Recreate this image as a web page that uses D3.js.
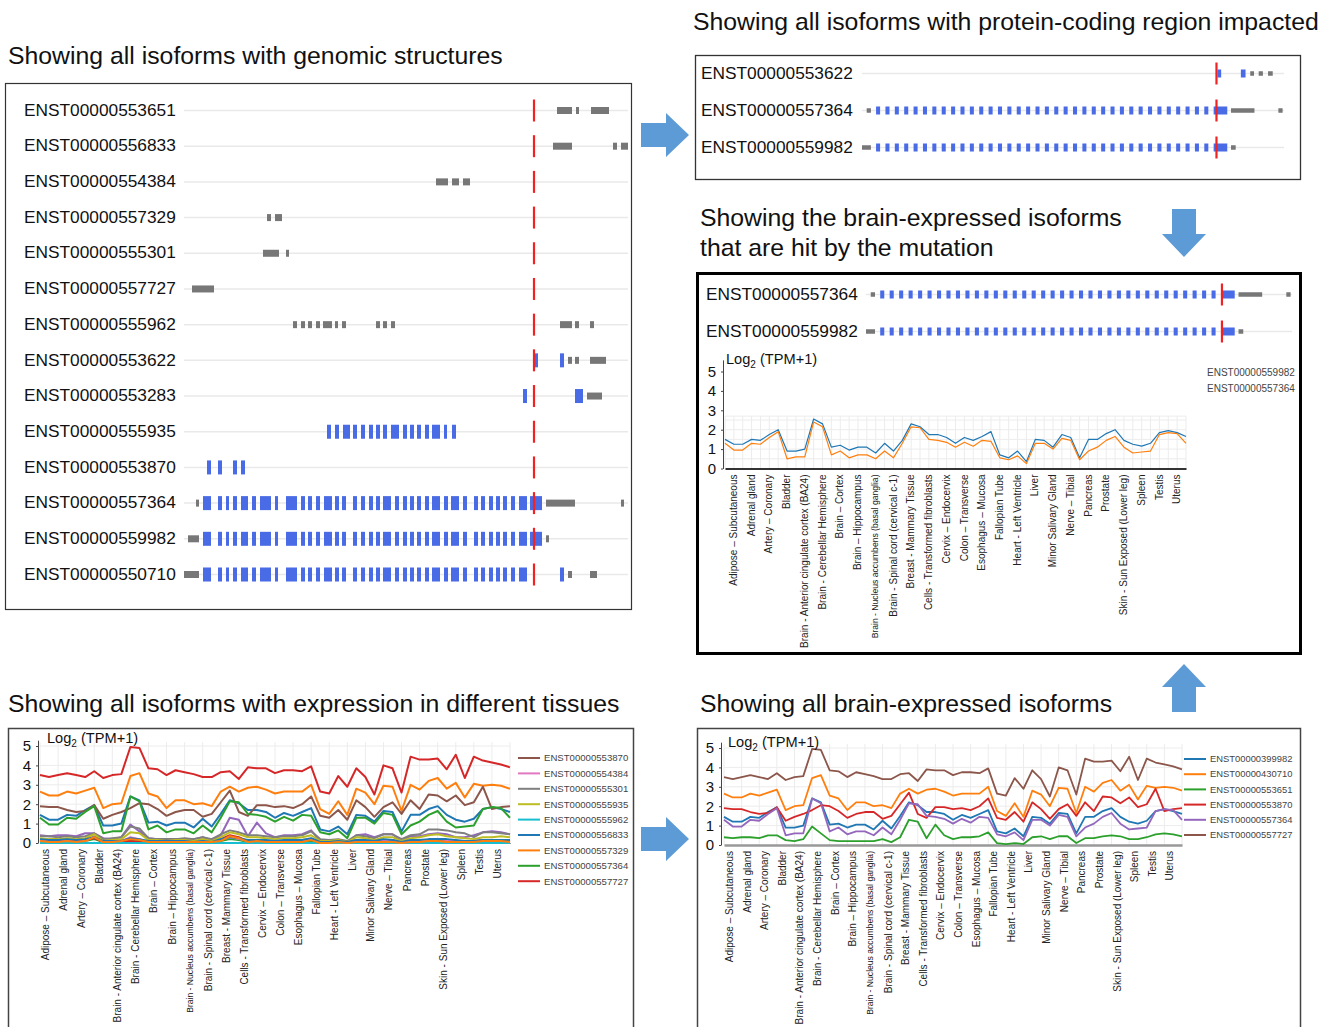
<!DOCTYPE html>
<html>
<head>
<meta charset="utf-8">
<script src="https://cdn.jsdelivr.net/npm/d3@7"></script>
<style>
  body { margin: 0; background: #fff; }
  svg { display: block; }
  text { font-family: "Liberation Sans", Arial, sans-serif; }
</style>
</head>
<body>
<svg id="fig" width="1331" height="1027"></svg>
<script>

// ---------------- data ----------------

// GTEx tissues (every other one is labelled on the axis)
var tissues = ["Adipose – Subcutaneous", "Adipose – Visceral (Omentum)", "Adrenal gland", "Artery – Aorta",
  "Artery – Coronary", "Artery – Tibial", "Bladder", "Brain – Amygdala",
  "Brain - Anterior cingulate cortex (BA24)", "Brain – Caudate (basal ganglia)", "Brain - Cerebellar Hemisphere",
  "Brain – Cerebellum", "Brain – Cortex", "Brain – Frontal Cortex (BA9)", "Brain – Hippocampus",
  "Brain – Hypothalamus", "Brain - Nucleus accumbens (basal ganglia)", "Brain – Putamen (basal ganglia)",
  "Brain - Spinal cord (cervical c-1)", "Brain – Substantia nigra", "Breast - Mammary Tissue",
  "Cells – EBV-transformed lymphocytes", "Cells - Transformed fibroblasts", "Cervix – Ectocervix",
  "Cervix – Endocervix", "Colon – Sigmoid", "Colon – Transverse", "Esophagus – Gastroesophageal Junction",
  "Esophagus – Mucosa", "Esophagus – Muscularis", "Fallopian Tube", "Heart – Atrial Appendage",
  "Heart - Left Ventricle", "Kidney – Cortex", "Liver", "Lung", "Minor Salivary Gland", "Muscle – Skeletal",
  "Nerve – Tibial", "Ovary", "Pancreas", "Pituitary", "Prostate", "Skin – Not Sun Exposed (Suprapubic)",
  "Skin - Sun Exposed (Lower leg)", "Small Intestine – Terminal Ileum", "Spleen", "Stomach", "Testis",
  "Thyroid", "Uterus", "Vagina", "Whole Blood"];

// log2(TPM+1) per tissue
var e399982 = [1.45,1.2,1.2,1.45,1.4,1.7,1.95,0.9,0.9,1.0, 2.4,2.2,1.05,1.1,0.9,1.05,1.05,0.8,1.25,0.85,
  1.5,2.2,2.05,1.7,1.7,1.6,1.3,1.55,1.4,1.6, 1.8,0.7,0.6,0.85,0.45,1.45,1.4,1.1,1.65,1.6,
  0.6,1.45,1.45,1.75,1.9,1.45,1.2,1.1,1.25,1.75, 1.85,1.75,1.6];
var e430710 = [2.65,2.45,2.45,2.65,2.55,2.7,2.85,1.8,2.0,2.05, 3.45,3.6,2.55,2.4,1.8,2.2,2.2,2.0,2.05,1.9,
  2.65,2.9,2.65,2.85,2.9,2.75,2.55,2.65,2.65,2.65, 3.0,1.75,1.5,2.15,1.45,2.8,2.6,2.0,2.95,2.9,
  1.65,3.0,2.75,3.2,3.35,2.8,3.1,2.35,3.05,2.95, 3.0,2.95,2.8];
var e550710 = [0.1,0.05,0.05,0.1,0.05,0.1,0.2,0.05,0.05,0.05, 0.15,0.1,0.05,0.05,0.05,0.05,0.05,0.05,0.05,0.05,
  0.1,0.2,0.15,0.05,0.1,0.05,0.05,0.05,0.05,0.05, 0.1,0.0,0.0,0.05,0.0,0.05,0.05,0.05,0.05,0.05,
  0.0,0.05,0.05,0.1,0.1,0.1,0.05,0.05,0.05,0.1, 0.1,0.1,0.05];
var e553283 = [0.15,0.1,0.1,0.15,0.1,0.15,0.25,0.05,0.05,0.1, 0.1,0.05,0.05,0.05,0.05,0.05,0.05,0.05,0.05,0.05,
  0.2,0.4,0.3,0.1,0.15,0.1,0.1,0.1,0.1,0.15, 0.2,0.05,0.05,0.1,0.05,0.15,0.1,0.05,0.15,0.15,
  0.05,0.1,0.15,0.15,0.2,0.15,0.1,0.1,0.1,0.15, 0.15,0.15,0.1];
var e553651 = [0.4,0.35,0.4,0.4,0.35,0.5,0.5,0.25,0.2,0.3, 0.95,0.6,0.25,0.2,0.2,0.2,0.2,0.2,0.3,0.15,
  0.4,1.3,1.2,0.35,1.05,0.5,0.3,0.4,0.4,0.45, 0.65,0.1,0.05,0.1,0.05,0.4,0.45,0.3,0.45,0.45,
  0.1,0.35,0.35,0.45,0.5,0.45,0.3,0.3,0.4,0.55, 0.6,0.55,0.45];
var e553870 = [1.9,1.85,1.85,1.7,1.6,1.65,1.95,1.25,1.45,1.6, 1.8,2.05,2.0,1.75,1.4,1.6,1.7,1.7,1.35,1.5,
  2.1,2.7,1.6,1.4,1.95,1.95,1.85,1.9,1.8,2.0, 2.4,1.4,1.3,1.7,1.2,2.2,1.85,1.35,1.85,2.1,
  1.5,2.2,1.75,2.5,2.45,2.15,2.45,1.95,2.1,2.9, 1.75,1.85,1.9];
var e554384 = [0.1,0.1,0.05,0.1,0.05,0.1,0.35,0.05,0.05,0.1, 0.3,0.2,0.05,0.05,0.05,0.05,0.05,0.05,0.1,0.05,
  0.15,0.3,0.2,0.1,0.1,0.1,0.05,0.1,0.1,0.1, 0.2,0.05,0.05,0.05,0.0,0.1,0.1,0.05,0.1,0.1,
  0.05,0.1,0.1,0.15,0.2,0.15,0.1,0.1,0.05,0.1, 0.1,0.1,0.1];
var e555301 = [0.35,0.35,0.3,0.35,0.3,0.35,0.5,0.2,0.25,0.3, 0.85,0.75,0.25,0.2,0.2,0.2,0.25,0.2,0.3,0.2,
  0.45,0.65,0.55,0.4,0.4,0.35,0.3,0.35,0.35,0.4, 0.6,0.2,0.15,0.2,0.1,0.4,0.35,0.25,0.45,0.45,
  0.2,0.4,0.45,0.7,0.7,0.65,0.55,0.5,0.3,0.55, 0.55,0.5,0.45];
var e555935 = [0.25,0.2,0.2,0.25,0.2,0.25,0.45,0.1,0.15,0.2, 0.55,0.5,0.15,0.15,0.1,0.15,0.15,0.1,0.2,0.1,
  0.3,0.55,0.45,0.3,0.3,0.25,0.2,0.25,0.25,0.3, 0.4,0.1,0.1,0.15,0.05,0.3,0.25,0.15,0.3,0.3,
  0.1,0.25,0.3,0.4,0.45,0.35,0.3,0.25,0.2,0.3, 0.3,0.35,0.3];
var e555962 = [0,0,0,0,0,0,0,0,0,0, 0,0,0,0,0,0,0,0,0,0, 0,0,0,0,0,0,0,0,0,0,
  0,0,0,0,0,0,0,0,0,0, 0,0,0,0,0,0,0,0,0,0, 0,0,0];
var e556833 = [0.2,0.15,0.15,0.2,0.15,0.2,0.3,0.1,0.1,0.1, 0.25,0.2,0.1,0.1,0.1,0.1,0.1,0.05,0.1,0.05,
  0.2,0.3,0.25,0.15,0.15,0.15,0.1,0.15,0.15,0.15, 0.25,0.05,0.05,0.1,0.05,0.15,0.15,0.1,0.2,0.15,
  0.05,0.15,0.15,0.2,0.2,0.2,0.15,0.1,0.1,0.15, 0.15,0.15,0.15];
var e557329 = [0.1,0.05,0.05,0.1,0.05,0.1,0.3,0.05,0.05,0.1, 0.2,0.15,0.05,0.05,0.05,0.05,0.05,0.05,0.05,0.05,
  0.1,0.35,0.25,0.05,0.1,0.05,0.05,0.05,0.05,0.05, 0.15,0.0,0.0,0.05,0.0,0.05,0.05,0.05,0.05,0.05,
  0.0,0.05,0.05,0.1,0.1,0.05,0.05,0.05,0.05,0.1, 0.1,0.1,0.05];
var e557364 = [1.3,0.95,0.95,1.3,1.25,1.6,1.9,0.5,0.6,0.6, 2.4,2.15,0.7,0.9,0.55,0.7,0.7,0.5,0.9,0.55,
  1.3,2.15,2.1,1.5,1.45,1.35,1.1,1.35,1.15,1.45, 1.4,0.55,0.45,0.65,0.25,1.3,1.3,1.0,1.55,1.45,
  0.45,0.9,1.1,1.45,1.65,1.1,0.8,0.85,0.9,1.75, 1.85,1.8,1.3];
var e557727 = [3.5,3.4,3.5,3.6,3.5,3.4,3.7,3.35,3.5,3.55, 4.95,4.9,3.85,3.8,3.5,3.75,3.65,3.55,3.4,3.4,
  3.65,3.7,3.3,3.9,3.85,3.85,3.6,3.75,3.75,3.7, 3.95,2.65,2.55,3.45,2.9,3.85,3.4,2.5,4.0,3.85,
  2.6,4.45,4.3,4.3,4.35,3.8,4.55,3.35,4.45,4.25, 4.15,4.05,3.9];
var e559982 = [1.5,1.25,1.25,1.5,1.45,1.75,2.0,0.9,0.9,1.0, 2.55,2.3,1.1,1.2,0.95,1.1,1.1,0.8,1.3,0.9,
  1.45,2.3,2.15,1.75,1.75,1.6,1.3,1.6,1.45,1.65, 1.9,0.7,0.55,0.9,0.35,1.5,1.45,1.1,1.75,1.6,
  0.55,1.5,1.5,1.8,2.0,1.45,1.25,1.15,1.3,1.85, 1.95,1.85,1.65];

// series shown in each expression chart (legend of the left chart is scrolled to item 5)
var allIds = ["ENST00000399982", "ENST00000430710", "ENST00000550710", "ENST00000553283", "ENST00000553651",
  "ENST00000553870", "ENST00000554384", "ENST00000555301", "ENST00000555935", "ENST00000555962",
  "ENST00000556833", "ENST00000557329", "ENST00000557364", "ENST00000557727"];
var allValues = [e399982, e430710, e550710, e553283, e553651, e553870, e554384, e555301, e555935, e555962,
  e556833, e557329, e557364, e557727];
var brainIds = ["ENST00000399982", "ENST00000430710", "ENST00000553651", "ENST00000553870",
  "ENST00000557364", "ENST00000557727"];
var brainValues = [e399982, e430710, e553651, e553870, e557364, e557727];
var hitBrainIds = ["ENST00000559982", "ENST00000557364"];
var hitBrainValues = [e559982, e557364];

// genomic structures, positions in the gene window (0 - 444)
var windowIds = ["ENST00000553651", "ENST00000556833", "ENST00000554384", "ENST00000557329",
  "ENST00000555301", "ENST00000557727", "ENST00000555962", "ENST00000553622", "ENST00000553283",
  "ENST00000555935", "ENST00000553870", "ENST00000557364", "ENST00000559982", "ENST00000550710"];
var cdsMain = [[19,27],[34,38],[42,45],[49,53],[57,64],[68,72],[76,87],[91,94],[102,113],[117,121],
  [124,128],[132,136],[140,148],[151,155],[158,162],[169,173],[177,181],[185,189],[192,196],[199,207],
  [211,215],[219,223],[226,230],[233,237],[241,245],[248,256],[260,264],[267,275],[279,283],[290,294],
  [297,301],[305,309],[312,316],[319,323],[327,331],[335,343],[346,358]];
var windowCds = [[], [], [], [], [], [], [],
  [[351,354],[376,380]],
  [[339,343],[391,399]],
  [[143,147],[151,155],[159,166],[169,173],[177,181],[185,189],[192,196],[199,203],[207,215],[219,223],
   [226,230],[233,237],[241,245],[248,256],[260,263],[268,272]],
  [[23,27],[34,38],[49,53],[57,61]],
  cdsMain,
  cdsMain,
  cdsMain.slice(0, 36).concat([[376,380]])];
var windowUtr = [
  [[373,388],[392,395],[407,425]],
  [[369,388],[429,433],[437,444]],
  [[252,264],[268,275],[279,286]],
  [[83,87],[91,98]],
  [[79,95],[102,105]],
  [[8,30]],
  [[109,113],[117,121],[124,128],[132,136],[139,148],[151,154],[158,162],[192,196],[199,203],[207,211],
   [376,388],[391,395],[406,410]],
  [[384,388],[391,395],[406,422]],
  [[403,418]],
  [], [],
  [[12,15],[362,391],[437,440]],
  [[4,15],[362,365]],
  [[0,15],[384,388],[406,413]]];
var mutationPos = 350;

// collapsed (exon-slot) structures
var slotCdsFull = d3.range(36).map(function(k){ return [k + 1.5, k + 1.93]; }).concat([[37.5, 38.95]]);
var hitIds = ["ENST00000553622", "ENST00000557364", "ENST00000559982"];
var hitCds = [[[37.9,38.3],[40.4,40.9]], slotCdsFull, slotCdsFull];
var hitUtr = [[[41.4,41.8],[42.3,42.75],[43.3,43.8]],
  [[0.5,0.95],[39.35,41.85],[44.4,44.85]],
  [[0,0.95],[39.35,39.85]]];

// ---------------- drawing ----------------

var svg = d3.select("#fig");
var palette = d3.schemeCategory10;
var cdsColor = "#4a6be6", utrColor = "#777777", mutColor = "#f02222";

function title(x, y, str) {
  svg.append("text").attr("x", x).attr("y", y).attr("font-size", 24.8).attr("fill", "#111").text(str);
}

function box(x, y, w, h, sw, col) {
  svg.append("rect").attr("x", x).attr("y", y).attr("width", w).attr("height", h)
    .attr("fill", "none").attr("stroke", col).attr("stroke-width", sw);
}

function structure(ids, cds, utr, x, y, o) {
  var g = svg.append("g");
  g.selectAll(".trk").data(ids).enter().append("line")
    .attr("x1", x.range()[0]).attr("x2", x.range()[1])
    .attr("y1", function(d){ return y(d); }).attr("y2", function(d){ return y(d); })
    .attr("stroke", "#e9e9e9").attr("stroke-width", 1.5);
  g.selectAll(".lab").data(ids).enter().append("text")
    .attr("x", o.labelX).attr("y", function(d){ return y(d); }).attr("dy", "0.3em")
    .attr("font-size", 17.3).attr("fill", "#111").text(function(d){ return d; });
  ids.forEach(function(id, i) {
    g.selectAll(null).data(utr[i]).enter().append("rect")
      .attr("x", function(d){ return x(d[0]); })
      .attr("width", function(d){ return x(d[1]) - x(d[0]); })
      .attr("y", y(id) - o.utrH / 2).attr("height", o.utrH).attr("fill", utrColor);
    g.selectAll(null).data(cds[i]).enter().append("rect")
      .attr("x", function(d){ return x(d[0]); })
      .attr("width", function(d){ return x(d[1]) - x(d[0]); })
      .attr("y", y(id) - o.cdsH / 2).attr("height", o.cdsH).attr("fill", cdsColor);
    g.append("line").attr("x1", x(o.mut)).attr("x2", x(o.mut))
      .attr("y1", y(id) - 11).attr("y2", y(id) + 11)
      .attr("stroke", mutColor).attr("stroke-width", 2.2);
  });
}

function exprChart(ids, values, colors, o) {
  var g = svg.append("g");
  var x = d3.scaleLinear().domain([0, tissues.length - 1]).range([o.x0, o.x1]);
  var y = d3.scaleLinear().domain([0, 5]).range([o.yZero, o.yZero - 5 * o.unit]);
  var labelled = d3.range(0, 51, 2);

  // grid
  g.selectAll(".vg").data(o.vgrid).enter().append("line")
    .attr("x1", function(d){ return x(d); }).attr("x2", function(d){ return x(d); })
    .attr("y1", y(0)).attr("y2", y(o.gridTop))
    .attr("stroke", "#ececec").attr("stroke-width", 1);
  g.selectAll(".hg").data(o.hgrid).enter().append("line")
    .attr("x1", x(0)).attr("x2", x(tissues.length - 1))
    .attr("y1", function(d){ return y(d); }).attr("y2", function(d){ return y(d); })
    .attr("stroke", "#ececec").attr("stroke-width", 1);

  // x axis
  var xa = g.append("g").attr("transform", "translate(0," + y(0) + ")")
    .call(d3.axisBottom(x).tickValues(labelled).tickSize(0)
      .tickFormat(function(i){ return tissues[i]; }));
  xa.select(".domain").attr("stroke", o.xAxisColor).attr("stroke-width", o.xAxisW);
  xa.selectAll("text")
    .attr("transform", "rotate(-90)").attr("x", -6).attr("y", o.labelOff).attr("dy", "0.35em")
    .style("text-anchor", "end").attr("fill", "#222")
    .attr("font-family", "Liberation Sans, Arial, sans-serif")
    .attr("font-size", function(i){ return tissues[i].indexOf("Nucleus") >= 0 ? 8.6 : 10; });

  // lines
  var line = d3.line().x(function(d, i){ return x(i); }).y(function(d){ return y(d); });
  g.selectAll(".ser").data(values).enter().append("path")
    .attr("d", line).attr("fill", "none")
    .attr("stroke", function(d, i){ return colors[i]; })
    .attr("stroke-width", o.lineW).attr("stroke-linejoin", "round");

  // y axis
  var ya = g.append("g").attr("transform", "translate(" + o.axisX + ",0)")
    .call(d3.axisLeft(y.copy().domain([0, o.axisTop]).range([y(0), y(o.axisTop)]))
      .tickValues([0, 1, 2, 3, 4, 5]).tickSize(2).tickSizeOuter(0).tickPadding(5)
      .tickFormat(d3.format("d")));
  ya.select(".domain").attr("stroke", "#444");
  ya.selectAll("line").attr("stroke", "#444");
  ya.selectAll("text").attr("font-size", 15).attr("fill", "#111")
    .attr("font-family", "Liberation Sans, Arial, sans-serif");

  // unit label
  var t = g.append("text").attr("x", o.axisX + o.unitDx).attr("y", y(5) - o.unitDy)
    .attr("font-size", 14.6).attr("fill", "#111");
  t.append("tspan").text("Log");
  t.append("tspan").attr("font-size", 10).attr("dy", 4).text("2");
  t.append("tspan").attr("dy", -4).text(" (TPM+1)");
  return g;
}

function legend(ids, colors, o) {
  var g = svg.append("g");
  var rows = g.selectAll(".lg").data(ids).enter().append("g")
    .attr("transform", function(d, i){ return "translate(" + o.x + "," + (o.y + i * o.step) + ")"; });
  if (o.swatch) {
    rows.append("line").attr("x1", 0).attr("x2", 22).attr("y1", 0).attr("y2", 0)
      .attr("stroke", function(d, i){ return colors[i]; }).attr("stroke-width", 2);
  }
  rows.append("text").attr("x", o.swatch ? 26 : 0).attr("dy", "0.35em")
    .attr("font-family", o.font).attr("font-size", o.size)
    .attr("fill", "#444").text(function(d){ return d; });
}

function arrow(x0, y0, angle) {
  var p = d3.path();
  p.moveTo(0, -12); p.lineTo(25, -12); p.lineTo(25, -22); p.lineTo(48, 0);
  p.lineTo(25, 22); p.lineTo(25, 12); p.lineTo(0, 12); p.closePath();
  svg.append("path").attr("d", p.toString()).attr("fill", "#5d9bd7")
    .attr("transform", "translate(" + x0 + "," + y0 + ") rotate(" + angle + ")");
}

// ---- panel: all isoforms with genomic structures ----
title(8, 64, "Showing all isoforms with genomic structures");
box(5.5, 83.5, 626, 526, 1.2, "#333");
structure(windowIds, windowCds, windowUtr,
  d3.scaleLinear().domain([0, 444]).range([184, 628]),
  d3.scalePoint().domain(windowIds).range([110.5, 574.5]),
  { labelX: 24, utrH: 7, cdsH: 14, mut: mutationPos });

// ---- panel: protein-coding region impacted ----
title(693, 30, "Showing all isoforms with protein-coding region impacted");
box(695.5, 55.5, 605, 124, 1.3, "#333");
structure(hitIds, hitCds, hitUtr,
  d3.scaleLinear().domain([0, 45]).range([862, 1284]),
  d3.scalePoint().domain(hitIds).range([73.5, 147.5]),
  { labelX: 701, utrH: 4.5, cdsH: 8, mut: 37.8 });

// ---- panel: brain-expressed isoforms hit by the mutation ----
title(700, 226, "Showing the brain-expressed isoforms");
title(700, 256, "that are hit by the mutation");
box(697.5, 273.5, 603, 380, 3, "#000");
var hitBrainStructIds = ["ENST00000557364", "ENST00000559982"];
structure(hitBrainStructIds, [slotCdsFull, slotCdsFull], [hitUtr[1], hitUtr[2]],
  d3.scaleLinear().domain([0, 45]).range([866, 1292]),
  d3.scalePoint().domain(hitBrainStructIds).range([294.5, 331.5]),
  { labelX: 706, utrH: 4.5, cdsH: 8, mut: 37.6 });
exprChart(hitBrainIds, hitBrainValues, [palette[0], palette[1]], {
  x0: 725, x1: 1186, yZero: 468.5, unit: 19.4, axisX: 723, axisTop: 5.6, lineW: 1.2,
  vgrid: d3.range(0, 53), hgrid: [0.5, 1, 1.5, 2, 2.5, 2.7], gridTop: 2.7,
  xAxisColor: "#333", xAxisW: 2, labelOff: 8, unitDx: 3, unitDy: 8 });
legend(hitBrainIds, [palette[0], palette[1]],
  { x: 1207, y: 372, step: 16, swatch: false, font: "Liberation Sans, Arial, sans-serif", size: 10 });

// ---- panel: all isoforms, expression ----
title(8, 712, "Showing all isoforms with expression in different tissues");
box(8.5, 728.5, 625, 310, 1.5, "#444");
exprChart(allIds, allValues, allIds.map(function(d, i){ return palette[i % 10]; }), {
  x0: 40, x1: 510, yZero: 843, unit: 19.4, axisX: 38, axisTop: 5.3, lineW: 2,
  vgrid: d3.range(0, 53, 2), hgrid: [1, 2, 3, 4, 5], gridTop: 5.2,
  xAxisColor: "#333", xAxisW: 1, labelOff: 5, unitDx: 9, unitDy: 3 });
legend(allIds.slice(5), allIds.slice(5).map(function(d, i){ return palette[(i + 5) % 10]; }),
  { x: 518, y: 758, step: 15.4, swatch: true, font: "DejaVu Sans, Verdana, sans-serif", size: 9.6 });

// ---- panel: all brain-expressed isoforms ----
title(700, 712, "Showing all brain-expressed isoforms");
box(697.5, 728.5, 603, 310, 1.5, "#444");
exprChart(brainIds, brainValues, palette.slice(0, 6), {
  x0: 724, x1: 1182, yZero: 845, unit: 19.4, axisX: 721, axisTop: 5.3, lineW: 1.8,
  vgrid: d3.range(0, 53, 2), hgrid: [1, 2, 3, 4, 5], gridTop: 5.2,
  xAxisColor: "#999", xAxisW: 2.5, labelOff: 5, unitDx: 7, unitDy: 1 });
legend(brainIds, palette.slice(0, 6),
  { x: 1184, y: 759, step: 15.2, swatch: true, font: "DejaVu Sans, Verdana, sans-serif", size: 9.4 });

// ---- arrows ----
arrow(641, 135, 0);
arrow(1184, 209, 90);
arrow(1184, 712, -90);
arrow(641, 839, 0);

</script>
</body>
</html>
